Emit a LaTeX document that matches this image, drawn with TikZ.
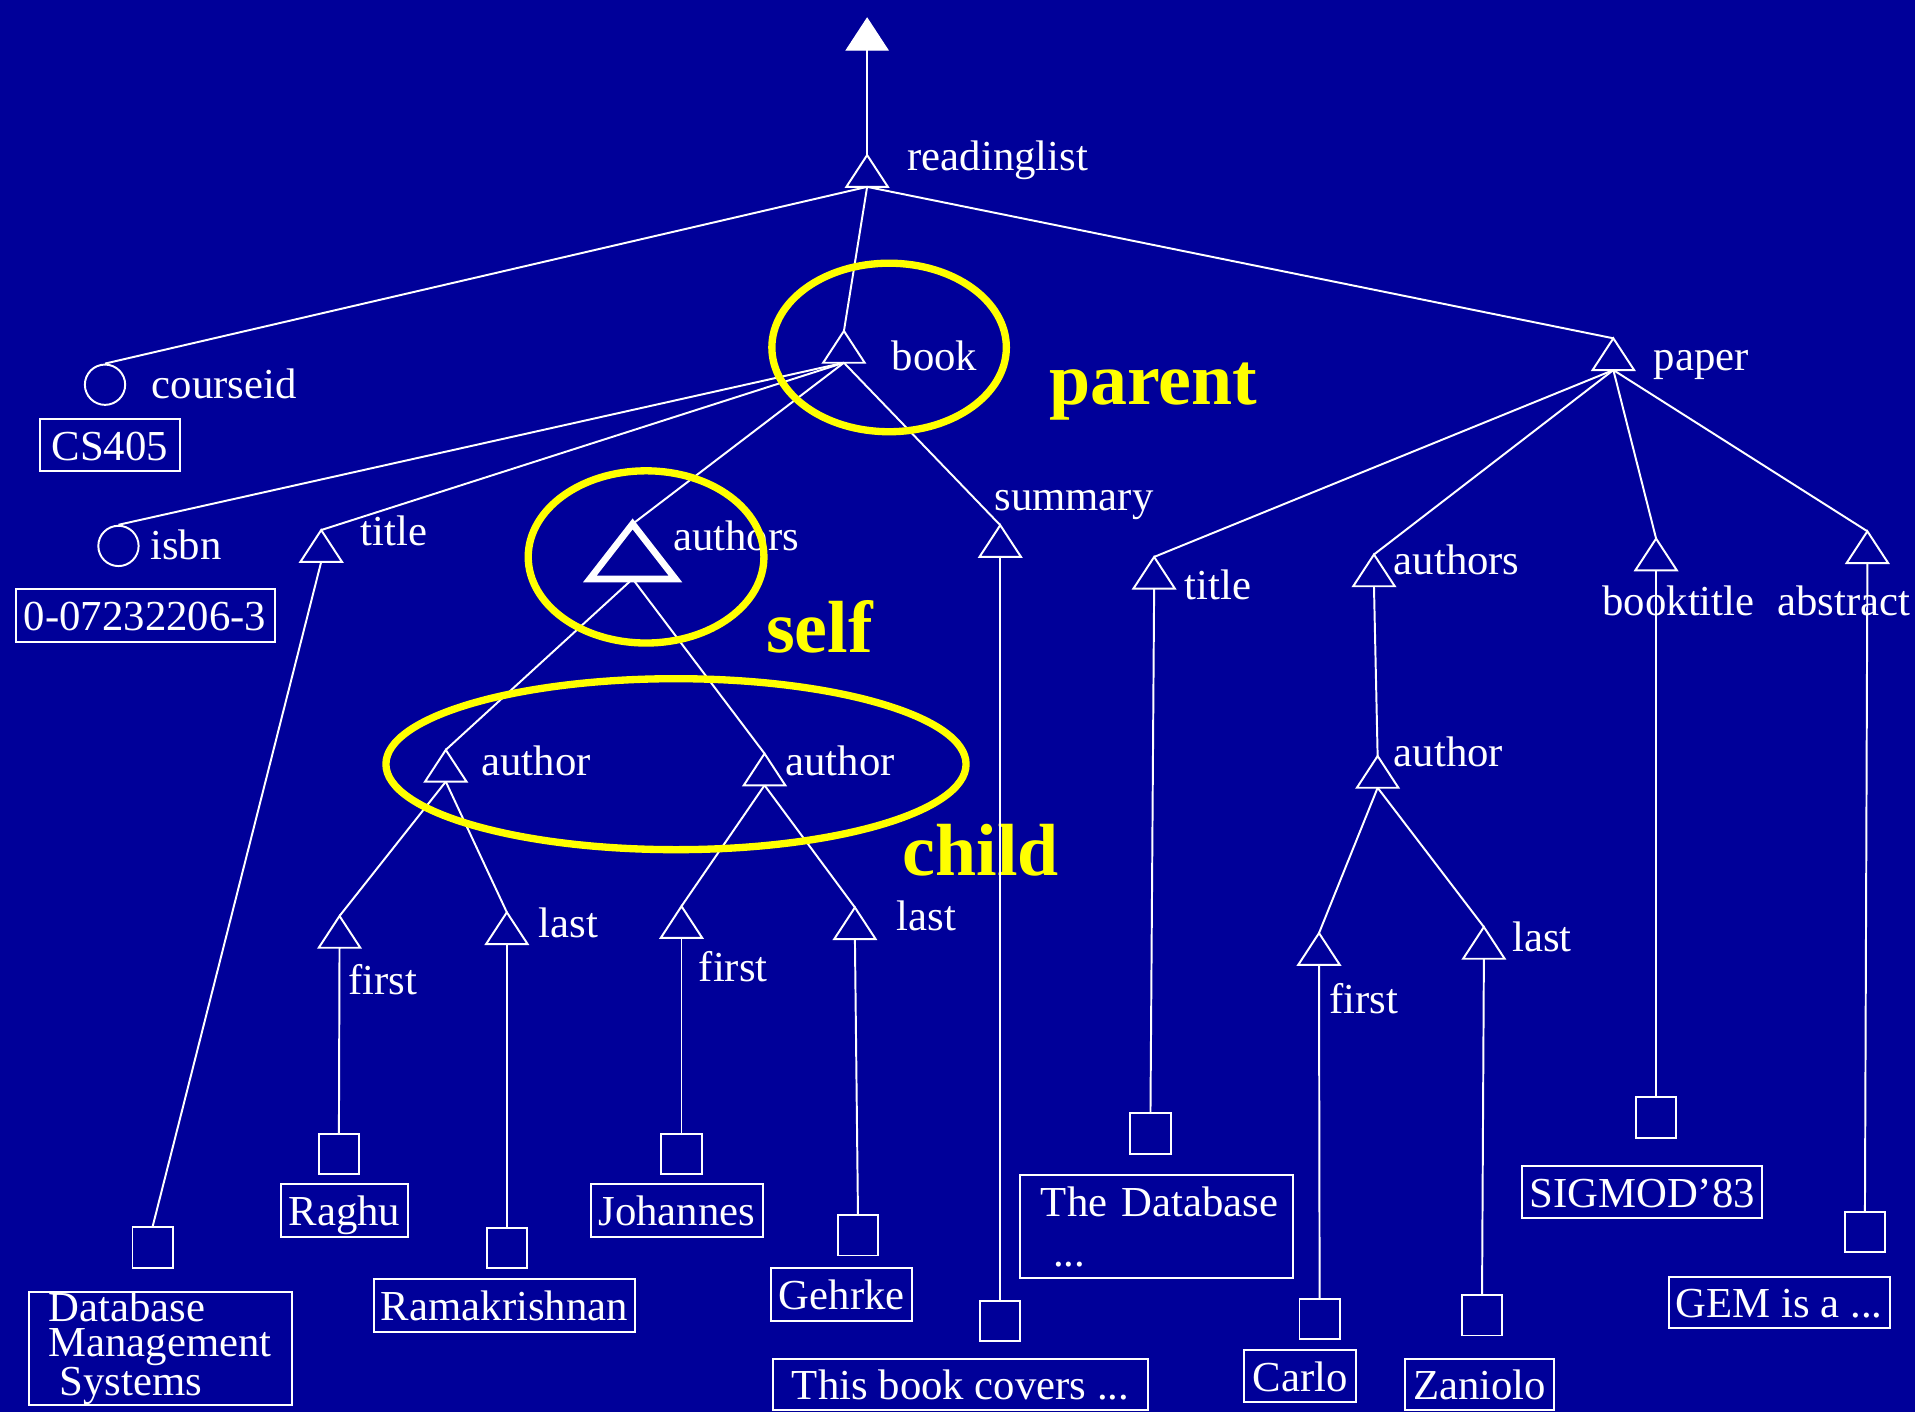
\documentclass[tikz,border=0pt]{standalone}
\usepackage{fontspec}
\setmainfont{Liberation Serif}
\definecolor{slidebg}{RGB}{0,0,153}
\definecolor{hilite}{RGB}{255,255,0}
\begin{document}
\begin{tikzpicture}[x=1pt,y=-1pt,
  wire/.style={draw=white, line width=1.6pt},
  lbl/.style={anchor=base west, inner sep=0pt, text=white, font=\fontsize{35}{40}\selectfont},
  ylbl/.style={anchor=base west, inner sep=0pt, text=hilite, font=\fontsize{60.5}{66}\selectfont\bfseries},
  ring/.style={circle, draw=white, line width=1.6pt, minimum size=33pt, inner sep=0pt},
  leaf/.style={rectangle, draw=white, line width=1.6pt, minimum size=33pt, inner sep=0pt},
  valbase/.style={rectangle, draw=white, line width=1.6pt, text=white, inner xsep=0pt, inner ysep=0pt},
  val/.style={valbase, text height=31pt, text depth=6pt, font=\fontsize{35}{40}\selectfont},
  mark ring/.style={draw=hilite, line width=6pt},
  tri/.pic={
    \draw[wire, line join=miter] (0,0) -- (-17,26) -- (17,26) -- cycle;
    \coordinate (-a) at (0,0);
    \coordinate (-b) at (0,26);
  },
  solidtri/.pic={
    \filldraw[white, line width=1pt] (0,0) -- (-17,26) -- (17,26) -- cycle;
    \coordinate (-a) at (0,0);
    \coordinate (-b) at (0,26);
  },
  boldtri/.pic={
    \draw[white, line width=5.5pt, line join=miter] (0,0) -- (-35,45) -- (35,45) -- cycle;
    \coordinate (-a) at (0,0);
    \coordinate (-b) at (0,45);
  }
]
% background and page size
\fill[slidebg] (0,0) rectangle (1568,1156);
\useasboundingbox (0,0) rectangle (1568,1156);

% element triangles
\pic (top) at (710,15) {solidtri};
\pic (rl) at (710,127) {tri};
\pic (book) at (691,271) {tri};
\pic (paper) at (1321,277) {tri};
\pic (titleA) at (263,434) {tri};
\pic (self) at (518,429) {boldtri};
\pic (summary) at (819,430) {tri};
\pic (authorA) at (365,614) {tri};
\pic (authorB) at (626,617) {tri};
\pic (firstA) at (278,750) {tri};
\pic (lastA) at (415,747) {tri};
\pic (firstB) at (558,742) {tri};
\pic (lastB) at (700,743) {tri};
\pic (titleB) at (945,456) {tri};
\pic (authorsB) at (1125,454) {tri};
\pic (authorC) at (1128,619) {tri};
\pic (firstC) at (1080,764) {tri};
\pic (lastC) at (1215,759) {tri};
\pic (booktitle) at (1356,441) {tri};
\pic (abstract) at (1529,435) {tri};

% attribute circles
\node[ring] (courseid) at (86,315) {};
\node[ring] (isbn) at (97,447) {};

% text leaves
\node[leaf] (dbmsS) at (125,1021.5) {};
\node[leaf] (raghuS) at (277.5,945) {};
\node[leaf] (ramaS) at (415,1022) {};
\node[leaf] (johS) at (558,945) {};
\node[leaf] (gehS) at (702.5,1011.5) {};
\node[leaf] (sumS) at (819,1081.5) {};
\node[leaf] (tdbS) at (942,928) {};
\node[leaf] (carloS) at (1080.5,1080) {};
\node[leaf] (zanS) at (1213.5,1077) {};
\node[leaf] (sigS) at (1356,915) {};
\node[leaf] (gemS) at (1527,1009) {};

% value boxes
\node[val, minimum width=114pt, minimum height=43pt] (cs) at (90,364.5) {CS405};
\node[val, minimum width=212pt, minimum height=43pt] (isbnv) at (118.8,504) {0-07232206-3};
\node[valbase, anchor=north west, minimum width=215pt, minimum height=89pt, text width=215pt,
      align=left, font=\fontsize{35}{29}\selectfont] (dbms) at (23,1057)
      {\hspace*{16pt}Database\\\hspace*{16pt}Management\\\hspace*{25pt}Systems};
\node[val, minimum width=104pt, minimum height=43pt] (raghu) at (282,991) {Raghu};
\node[val, minimum width=214pt, minimum height=43pt] (rama) at (413,1069) {Ramakrishnan};
\node[val, minimum width=141pt, minimum height=43pt] (joh) at (554.3,991) {Johannes};
\node[val, minimum width=115.5pt, minimum height=43pt] (geh) at (689.2,1060) {Gehrke};
\node[val, minimum width=307.5pt, minimum height=42pt] (sum) at (786.5,1133.5) {This book covers ...};
\node[valbase, anchor=north west, minimum width=223.5pt, minimum height=84.5pt, text width=223.5pt,
      align=left, font=\fontsize{35}{41}\selectfont] (tdb) at (834.5,961.5)
      {\hspace*{17pt}The Database\\\hspace*{27pt}...};
\node[val, minimum width=91.5pt, minimum height=42.5pt] (carlo) at (1064.5,1127) {Carlo};
\node[val, minimum width=121.5pt, minimum height=42pt] (zan) at (1211.5,1133.5) {Zaniolo};
\node[val, minimum width=196.5pt, minimum height=42.5pt] (sig) at (1344.6,976) {SIGMOD’83};
\node[val, minimum width=181pt, minimum height=41.5pt] (gem) at (1456.8,1066.5) {GEM is a ...};

% highlighted role words
\node[ylbl] (parentL) at (859,331) {parent};
\node[ylbl] (selfL) at (627,534) {self};
\node[ylbl] (childL) at (739,717) {child};

% tree edges
\draw[wire] (top-b) -- (rl-a);
\draw[wire] (rl-b) -- (courseid.north);
\draw[wire] (rl-b) -- (book-a);
\draw[wire] (rl-b) -- (paper-a);
\draw[wire] (book-b) -- (isbn.north);
\draw[wire] (book-b) -- (titleA-a);
\draw[wire] (book-b) -- (self-a);
\draw[wire] (book-b) -- (summary-a);
\draw[wire] (titleA-b) -- (dbmsS.north);
\draw[wire] (self-b) -- (authorA-a);
\draw[wire] (self-b) -- (authorB-a);
\draw[wire] (authorA-b) -- (firstA-a);
\draw[wire] (authorA-b) -- (lastA-a);
\draw[wire] (authorB-b) -- (firstB-a);
\draw[wire] (authorB-b) -- (lastB-a);
\draw[wire] (firstA-b) -- (raghuS.north);
\draw[wire] (lastA-b) -- (ramaS.north);
\draw[wire] (firstB-b) -- (johS.north);
\draw[wire] (lastB-b) -- (gehS.north);
\draw[wire] (summary-b) -- (sumS.north);
\draw[wire] (paper-b) -- (titleB-a);
\draw[wire] (paper-b) -- (authorsB-a);
\draw[wire] (paper-b) -- (booktitle-a);
\draw[wire] (paper-b) -- (abstract-a);
\draw[wire] (titleB-b) -- (tdbS.north);
\draw[wire] (authorsB-b) -- (authorC-a);
\draw[wire] (authorC-b) -- (firstC-a);
\draw[wire] (authorC-b) -- (lastC-a);
\draw[wire] (firstC-b) -- (carloS.north);
\draw[wire] (lastC-b) -- (zanS.north);
\draw[wire] (booktitle-b) -- (sigS.north);
\draw[wire] (abstract-b) -- (gemS.north);

% element and attribute names
\node[lbl] (rlL) at (743,140) {readinglist};
\node[lbl] (courseidL) at (124,326) {courseid};
\node[lbl] (bookL) at (730,303) {book};
\node[lbl] (paperL) at (1354,303) {paper};
\node[lbl] (isbnL) at (123,458) {isbn};
\node[lbl] (titleAL) at (295,447) {title};
\node[lbl] (selfNL) at (551,451) {authors};
\node[lbl] (summaryL) at (814,418) {summary};
\node[lbl] (authorAL) at (394,635) {author};
\node[lbl] (authorBL) at (643,635) {author};
\node[lbl] (lastAL) at (441,768) {last};
\node[lbl] (firstAL) at (285,814) {first};
\node[lbl] (firstBL) at (572,804) {first};
\node[lbl] (lastBL) at (734,762) {last};
\node[lbl] (titleBL) at (970,491) {title};
\node[lbl] (authorsBL) at (1141,470) {authors};
\node[lbl] (authorCL) at (1141,628) {author};
\node[lbl] (firstCL) at (1088,830) {first};
\node[lbl] (lastCL) at (1238,779) {last};
\node[lbl] (booktitleL) at (1312,504) {booktitle};
\node[lbl] (abstractL) at (1455,504) {abstract};

% highlight rings
\draw[mark ring] (728,284.5) ellipse [x radius=96pt, y radius=69pt];
\draw[mark ring] (529,456) ellipse [x radius=96.5pt, y radius=70.5pt];
\draw[mark ring] (553.5,625.7) ellipse [x radius=237.5pt, y radius=70pt];
\end{tikzpicture}
\end{document}
